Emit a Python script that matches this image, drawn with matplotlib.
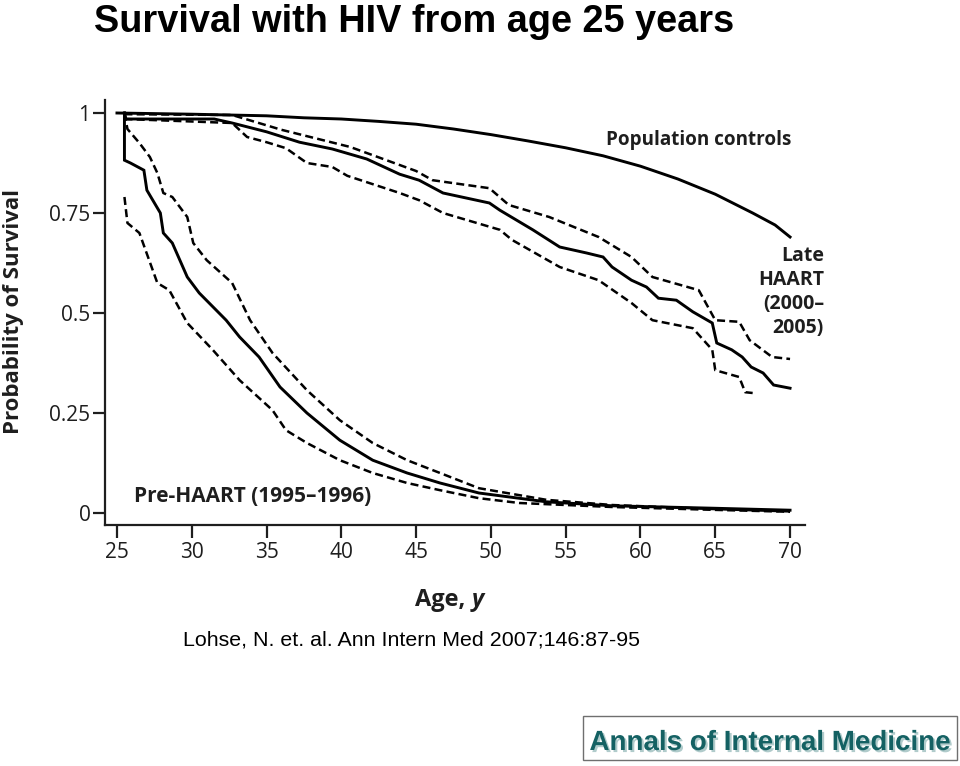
import matplotlib
matplotlib.use("Agg")
import matplotlib.pyplot as plt
from matplotlib import font_manager
from matplotlib.patches import Rectangle
import matplotlib.patheffects as pe

# ---------------- data ----------------
pop_age = [25, 30, 35, 37.5, 40, 42.5, 45, 47.5, 50, 52.5, 55, 57.5, 60, 62.5, 65, 67.5, 69, 70]
pop_surv = [1.0, 0.997, 0.993, 0.988, 0.985, 0.979, 0.972, 0.96, 0.946, 0.93, 0.913, 0.893,
            0.867, 0.835, 0.797, 0.75, 0.72, 0.69]

late_age = [25.5, 25.6, 31.5, 32.7, 35, 37.2, 39.4, 41.7, 43.9, 45.2, 46.8, 49.9, 50.6, 52.8,
            54.6, 56.4, 57.5, 58.1, 59.4, 60.4, 61.2, 62.4, 63.5, 64.8, 65.1, 66.1, 66.8, 67.4,
            68.2, 68.9, 70]
late_surv = [1.0, 0.985, 0.985, 0.975, 0.953, 0.927, 0.91, 0.885, 0.847, 0.832, 0.80, 0.775,
             0.757, 0.708, 0.665, 0.65, 0.64, 0.615, 0.582, 0.565, 0.537, 0.532, 0.503, 0.475,
             0.425, 0.408, 0.39, 0.365, 0.35, 0.32, 0.312]

late_hi_age = [25.5, 32.7, 36.0, 40.6, 43.9, 45.0, 46.1, 49.9, 51.2, 53.9, 57.2, 59.4, 60.8,
               63.9, 65.0, 66.6, 67.3, 68.8, 70]
late_hi_surv = [0.997, 0.995, 0.958, 0.915, 0.87, 0.855, 0.832, 0.812, 0.77, 0.74, 0.69, 0.64,
                0.59, 0.557, 0.482, 0.478, 0.432, 0.39, 0.385]

late_lo_age = [25.5, 32.7, 33.7, 35, 36.3, 37.7, 39.4, 40.4, 43.9, 45.2, 46.8, 50.6, 51.4,
               54.6, 57.2, 59.4, 60.8, 63.5, 64.8, 65.0, 66.6, 67.0, 67.5]
late_lo_surv = [0.985, 0.975, 0.94, 0.927, 0.912, 0.875, 0.865, 0.843, 0.80, 0.782, 0.75,
                0.708, 0.683, 0.615, 0.582, 0.525, 0.482, 0.462, 0.408, 0.357, 0.34, 0.302, 0.30]

pre_age = [25.5, 25.5, 25.9, 26.8, 27.0, 27.9, 28.1, 28.7, 29.7, 30.5, 32.3, 33.2, 34.5, 35.9,
           37.7, 39.9, 42.1, 44.4, 46.6, 49.2, 53.7, 58.1, 64.8, 70]
pre_surv = [1.0, 0.882, 0.875, 0.857, 0.807, 0.75, 0.70, 0.675, 0.59, 0.55, 0.482, 0.44, 0.39,
            0.315, 0.25, 0.182, 0.132, 0.10, 0.075, 0.05, 0.028, 0.018, 0.012, 0.007]

pre_hi_age = [25.5, 25.7, 26.5, 27.2, 27.7, 28.1, 28.7, 29.7, 30.1, 31.0, 32.7, 33.9, 35.4,
              37.7, 39.9, 42.1, 44.4, 46.6, 49.2, 53.7, 58.1, 64.8, 70]
pre_hi_surv = [1.0, 0.96, 0.925, 0.89, 0.85, 0.80, 0.79, 0.74, 0.675, 0.632, 0.575, 0.482, 0.40,
               0.307, 0.232, 0.175, 0.132, 0.10, 0.062, 0.033, 0.02, 0.01, 0.004]

pre_lo_age = [25.5, 25.7, 26.5, 27.7, 28.5, 29.7, 31.4, 33.2, 35.4, 36.3, 37.7, 39.9, 42.1,
              44.4, 46.6, 49.2, 51.9, 58.1, 64.8, 70]
pre_lo_surv = [0.79, 0.725, 0.70, 0.575, 0.557, 0.475, 0.408, 0.332, 0.257, 0.207, 0.175, 0.132,
               0.10, 0.075, 0.057, 0.037, 0.025, 0.015, 0.008, 0.003]

x_ticks = [25, 30, 35, 40, 45, 50, 55, 60, 65, 70]
y_ticks = [0, 0.25, 0.5, 0.75, 1]
y_tick_labels = ["0", "0.25", "0.5", "0.75", "1"]

title = "Survival with HIV from age 25 years"
citation = "Lohse, N. et. al. Ann Intern Med 2007;146:87-95"
logo_text = "Annals of Internal Medicine"
label_pop = "Population controls"
label_late = ["Late", "HAART", "(2000\u2013", "2005)"]
label_pre = "Pre-HAART (1995\u20131996)"
ylabel = "Probability of Survival"

# ---------------- figure ----------------
W, H = 960, 766
fig = plt.figure(figsize=(W / 100, H / 100), dpi=100)
fig.patch.set_facecolor("white")


def fx(px):
    return px / W


def fy(py):
    return 1 - py / H


ax_font = "Open Sans"
ink = "#1e1e1e"
ax = fig.add_axes([fx(105), fy(525), fx(805) - fx(105), fy(100) - fy(525)])
ax.set_xlim(24.2, 71.0)
ax.set_ylim(-0.03, 1.0325)

solid = dict(color="black", lw=2.1, solid_joinstyle="miter")
dashed = dict(color="black", lw=1.8, linestyle=(0, (3.2, 1.7)))

ax.plot(pop_age, pop_surv, **solid)
ax.plot(late_age, late_surv, **solid)
ax.plot(late_hi_age, late_hi_surv, **dashed)
ax.plot(late_lo_age, late_lo_surv, **dashed)
ax.plot(pre_age, pre_surv, **solid)
ax.plot(pre_hi_age, pre_hi_surv, **dashed)
ax.plot(pre_lo_age, pre_lo_surv, **dashed)

for s in ["top", "right"]:
    ax.spines[s].set_visible(False)
for s in ["left", "bottom"]:
    ax.spines[s].set_linewidth(1.6)
    ax.spines[s].set_color(ink)

ax.set_xticks(x_ticks)
ax.set_xticklabels([str(t) for t in x_ticks])
ax.set_yticks(y_ticks)
ax.set_yticklabels(y_tick_labels)
ax.tick_params(axis="both", direction="out", length=9, width=1.6, color=ink,
               labelsize=15, labelcolor=ink)
ax.tick_params(axis="x", pad=3.5)
ax.tick_params(axis="y", pad=1.5)
for lab in ax.get_xticklabels() + ax.get_yticklabels():
    lab.set_fontfamily(ax_font)
    lab.set_fontweight("medium")

# axis labels
fig.text(fx(14), fy(311), ylabel, rotation=90, ha="center", va="center",
         fontsize=16, fontweight="bold", family=ax_font, color=ink)
t_age = fig.text(fx(415), fy(600), "Age, ", ha="left", va="center",
                 fontsize=17, fontweight="bold", family=ax_font, color=ink)
ax.annotate("y", xy=(1, 0), xycoords=t_age, ha="left", va="bottom",
            fontsize=17, fontweight="bold", fontstyle="italic", family=ax_font,
            color=ink, annotation_clip=False)

# curve labels
fig.text(fx(606), fy(140), label_pop, ha="left", va="center", fontsize=13.6,
         fontweight="bold", family=ax_font, color=ink)
for i, line in enumerate(label_late):
    fig.text(fx(824), fy(256 + 24 * i), line, ha="right", va="center", fontsize=14,
             fontweight="bold", family=ax_font, color=ink)
fig.text(fx(134), fy(497), label_pre, ha="left", va="center", fontsize=15,
         fontweight="bold", family=ax_font, color=ink)

# title and citation
fig.text(fx(94), fy(32), title, ha="left", va="baseline", fontsize=27.3,
         fontweight="bold", family="Liberation Sans", color="black")
fig.text(fx(183), fy(645), citation, ha="left", va="baseline", fontsize=15.4,
         family="Liberation Sans", color="black")

# logo box
fig.add_artist(Rectangle((fx(583), fy(760)), fx(957) - fx(583), fy(716) - fy(760),
                         transform=fig.transFigure, facecolor="white",
                         edgecolor="#6f6f6f", lw=1.0))
names = {f.name for f in font_manager.fontManager.ttflist}
if "Liberation Sans Narrow" in names:
    logo_family, logo_size = "Liberation Sans Narrow", 24.5
else:
    logo_family, logo_size = "Liberation Sans", 20
fig.text(fx(770), fy(750), logo_text, ha="center", va="baseline", fontsize=logo_size,
         fontweight="bold", family=logo_family, color="#146163",
         path_effects=[pe.SimplePatchShadow(offset=(1.5, -1.5), shadow_rgbFace="#8fb5b5",
                                            alpha=0.7), pe.Normal()])

fig.savefig("out.png", dpi=100, facecolor="white")
